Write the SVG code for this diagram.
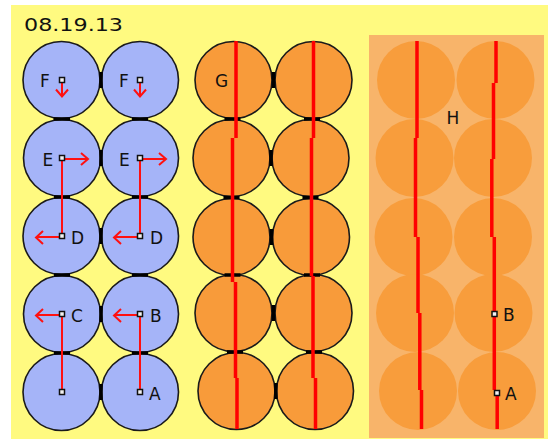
<svg xmlns="http://www.w3.org/2000/svg" width="548" height="439" viewBox="0 0 548 439">
<defs>
<style>
.bc{fill:#A5B4F8;stroke:#1a1a1a;stroke-width:1.6}
.oc{fill:#F89B3A;stroke:#1a1a1a;stroke-width:1.6}
.pc{fill:#F89D3C;stroke:none}
.tg{stroke:#000;stroke-width:3.5;fill:none}
.rl{stroke:#FF0000;stroke-width:3.5;fill:none}
.ra{stroke:#FF1010;stroke-width:2;fill:none}
.sq{fill:#f2f2f2;stroke:#111;stroke-width:1.5}
.lb{font-family:"DejaVu Sans",sans-serif;font-size:17px;fill:#111}
</style>
</defs>
<rect x="0" y="0" width="548" height="439" fill="#ffffff"/>
<rect x="11" y="5" width="537" height="434" fill="#FFFA80"/>
<text class="lb" x="24" y="31" textLength="99" lengthAdjust="spacingAndGlyphs">08.19.13</text>

<g id="blue-circles">
<g id="b11"><circle class="bc" cx="61.5" cy="80" r="38.5"/></g>
<g id="b12"><circle class="bc" cx="140" cy="80" r="38.5"/></g>
<g id="b21"><circle class="bc" cx="62" cy="158" r="38.5"/></g>
<g id="b22"><circle class="bc" cx="140" cy="158" r="38.5"/></g>
<g id="b31"><circle class="bc" cx="61.5" cy="236" r="38.5"/></g>
<g id="b32"><circle class="bc" cx="140" cy="236" r="38.5"/></g>
<g id="b41"><circle class="bc" cx="62" cy="314" r="38.5"/></g>
<g id="b42"><circle class="bc" cx="140" cy="314" r="38.5"/></g>
<g id="b51"><circle class="bc" cx="61.5" cy="392" r="38.5"/></g>
<g id="b52"><circle class="bc" cx="140" cy="392" r="38.5"/></g>
</g>

<g id="orange-circles">
<g id="o13"><circle class="oc" cx="233.5" cy="80" r="38.5"/></g>
<g id="o14"><circle class="oc" cx="313.5" cy="80" r="38.5"/></g>
<g id="o23"><circle class="oc" cx="231.5" cy="158" r="38.5"/></g>
<g id="o24"><circle class="oc" cx="310.5" cy="158" r="38.5"/></g>
<g id="o33"><circle class="oc" cx="231.5" cy="237" r="38.5"/></g>
<g id="o34"><circle class="oc" cx="311" cy="237" r="38.5"/></g>
<g id="o43"><circle class="oc" cx="233.5" cy="313" r="38.5"/></g>
<g id="o44"><circle class="oc" cx="313.5" cy="313" r="38.5"/></g>
<g id="o53"><circle class="oc" cx="236.5" cy="391" r="38.5"/></g>
<g id="o54"><circle class="oc" cx="315" cy="391" r="38.5"/></g>
</g>

<g id="tangents">
<path class="tg" d="M53.5 119H70M132 119H148M54 197H70M132 197H148M54 275H70M132 275H148M54 353H70M132 353H148"/>
<path class="tg" d="M101 72V88M101 150V166M101 228V244M101 306V322M101 384V400"/>
<path class="tg" d="M224.5 119H240.5M304 119H320M223.5 197.5H239.5M302.5 197.5H318.5M224.5 275H240.5M304 275H320M227 352H243M306 352H322"/>
<path class="tg" d="M273.5 72V88M271 150V166M271.5 229V245M273.5 305V321M275.8 383V399"/>
</g>

<g id="panel-h">
<rect x="369" y="35" width="175" height="403" fill="#F8B46A"/>
<g id="p11"><circle class="pc" cx="416" cy="80" r="39"/></g>
<g id="p12"><circle class="pc" cx="495.5" cy="80" r="39"/></g>
<g id="p21"><circle class="pc" cx="414.5" cy="158" r="39"/></g>
<g id="p22"><circle class="pc" cx="493" cy="158" r="39"/></g>
<g id="p31"><circle class="pc" cx="413.5" cy="237" r="39"/></g>
<g id="p32"><circle class="pc" cx="493" cy="237" r="39"/></g>
<g id="p41"><circle class="pc" cx="415" cy="313" r="39"/></g>
<g id="p42"><circle class="pc" cx="493.5" cy="313" r="39"/></g>
<g id="p51"><circle class="pc" cx="418" cy="391" r="39"/></g>
<g id="p52"><circle class="pc" cx="497" cy="391" r="39"/></g>
</g>

<g id="connectors">
<path class="rl" d="M236 41V138M232.5 138V282M235.5 282V378M237 378V429"/>
<path class="rl" d="M313.5 41V138M311.5 138V276M313 276V378M315.5 378V429"/>
<path class="rl" d="M417 41V138M415.5 138V237M418 237V313M419.8 313V390M421.5 390V429"/>
<path class="rl" d="M496 41V83M493.5 83V159M491.8 159V237M494.3 237V390M497.2 390V429"/>
<path class="ra" d="M62 82.5V96M56 89.5L62 96.5L68 89.5"/>
<path class="ra" d="M140 82.5V96M134 89.5L140 96.5L146 89.5"/>
<path class="ra" d="M64.5 159H88M81 153L88 159L81 165"/>
<path class="ra" d="M142.5 159H166M159 153L166 159L159 165"/>
<path class="ra" d="M62 160.5V233.5M140 160.5V233.5"/>
<path class="ra" d="M59.5 237H36M43 231L36 237.5L43 244"/>
<path class="ra" d="M137.5 237H114M121 231L114 237.5L121 244"/>
<path class="ra" d="M59.5 315H36M43 309L36 315.5L43 322"/>
<path class="ra" d="M137.5 315H114M121 309L114 315.5L121 322"/>
<path class="ra" d="M62 316.5V390M140 316.5V390"/>
</g>

<g id="markers">
<rect class="sq" x="59.5" y="77.5" width="5" height="5"/>
<rect class="sq" x="137.5" y="77.5" width="5" height="5"/>
<rect class="sq" x="59.5" y="155.5" width="5" height="5"/>
<rect class="sq" x="137.5" y="155.5" width="5" height="5"/>
<rect class="sq" x="59.5" y="233.5" width="5" height="5"/>
<rect class="sq" x="137.5" y="233.5" width="5" height="5"/>
<rect class="sq" x="59.5" y="311.5" width="5" height="5"/>
<rect class="sq" x="137.5" y="311.5" width="5" height="5"/>
<rect class="sq" x="59.5" y="389.5" width="5" height="5"/>
<rect class="sq" x="137.5" y="389.5" width="5" height="5"/>
<rect class="sq" x="492" y="311.5" width="5" height="5"/>
<rect class="sq" x="494.5" y="390.5" width="5" height="5"/>
</g>

<g id="labels">
<text class="lb" x="40" y="87">F</text>
<text class="lb" x="119" y="87">F</text>
<text class="lb" x="42.5" y="166">E</text>
<text class="lb" x="119" y="166">E</text>
<text class="lb" x="71" y="244">D</text>
<text class="lb" x="150" y="244">D</text>
<text class="lb" x="71" y="322">C</text>
<text class="lb" x="150" y="322">B</text>
<text class="lb" x="149" y="400">A</text>
<text class="lb" x="215" y="87">G</text>
<text class="lb" x="453" y="124" text-anchor="middle">H</text>
<text class="lb" x="503" y="321">B</text>
<text class="lb" x="505" y="400">A</text>
</g>
</svg>
